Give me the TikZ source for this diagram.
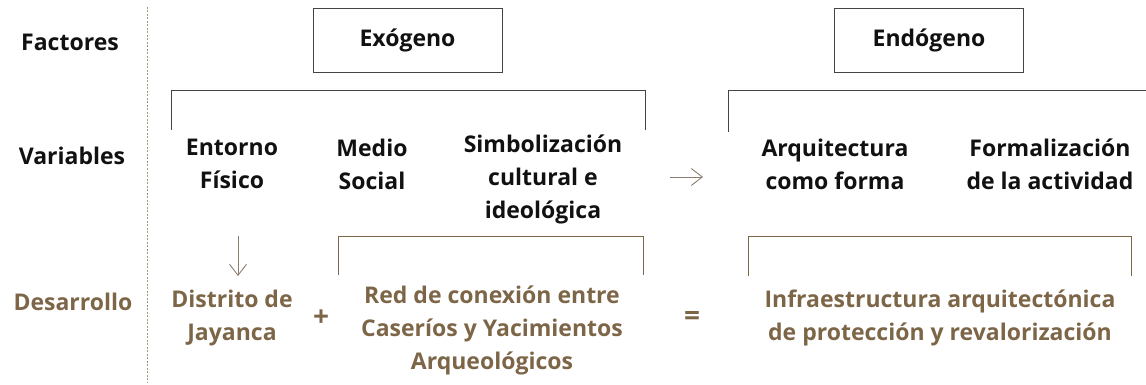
\documentclass[tikz,border=0pt]{standalone}
\usepackage{fontspec}
\usetikzlibrary{arrows.meta}
\setmainfont{Open Sans}
\definecolor{brn}{HTML}{7D6647}
\definecolor{arr}{HTML}{8C7F70}
\definecolor{brk}{HTML}{444444}
\definecolor{ink}{HTML}{111111}
\begin{document}
\begin{tikzpicture}[x=1pt,y=-1pt,
  txt/.style={font=\bfseries\fontsize{23}{33}\selectfont, align=center, inner sep=0pt, text=ink},
  dtxt/.style={txt, text=brn},
  optxt/.style={dtxt, font=\bfseries\fontsize{28}{33}\selectfont},
  facbox/.style={draw=brk, line width=0.9pt, minimum width=189pt, minimum height=64pt, inner sep=0pt, text=ink, font=\bfseries\fontsize{23}{33}\selectfont},
  darkbr/.style={draw=brk, line width=1pt},
  brnbr/.style={draw=brn, line width=1pt},
  thinarrow/.style={draw=arr, line width=0.9pt, -{Straight Barb[length=11pt,width=17pt,line width=0.9pt]}}
]
\useasboundingbox (0,0) rectangle (1146,385);
% separator
\draw[draw=brn!70, line width=0.8pt, dash pattern=on 2pt off 1.5pt] (147,7) -- (147,383);
% row labels
\node[txt] (fac) at (70,42) {Factores};
\node[txt] (var) at (72,156) {Variables};
\node[dtxt] (des) at (73,302) {Desarrollo};
% factor boxes
\node[facbox] (exo) at (407.5,40) {Exógeno};
\node[facbox] (endo) at (929,40) {Endógeno};
% dark brackets
\draw[darkbr] (171,130) -- (171,91) -- (645,91) -- (645,130);
\draw[darkbr] (728,132) -- (728,91) -- (1146,91);
% variables
\node[txt] (ent) at (232,164) {Entorno\\Físico};
\node[txt] (med) at (372,164) {Medio\\Social};
\node[txt] (sim) at (543,179) {Simbolización\\cultural e\\ideológica};
\node[txt] (arq) at (835,164) {Arquitectura\\como forma};
\node[txt] (for) at (1050,164) {Formalización\\de la actividad};
% arrow between
\coordinate (a1) at (670,177);
\coordinate (a2) at (703,177);
\draw[thinarrow] (a1) -- (a2);
% down arrow
\coordinate (d1) at (238,236);
\coordinate (d2) at (238,276);
\draw[thinarrow] (d1) -- (d2);
% brown brackets
\draw[brnbr] (338,275) -- (338,236) -- (643,236) -- (643,275);
\draw[brnbr] (748,276) -- (748,236) -- (1131,236) -- (1131,276);
% development row
\node[dtxt] (dis) at (232,318) {Distrito de\\Jayanca};
\node[optxt] (plus) at (321,318) {+};
\node[dtxt] (red) at (492,330) {Red de conexión entre\\Caseríos y Yacimientos\\Arqueológicos};
\node[optxt] (eq) at (692,318) {=};
\node[dtxt] (inf) at (940,318) {Infraestructura arquitectónica\\de protección y revalorización};
\end{tikzpicture}
\end{document}
